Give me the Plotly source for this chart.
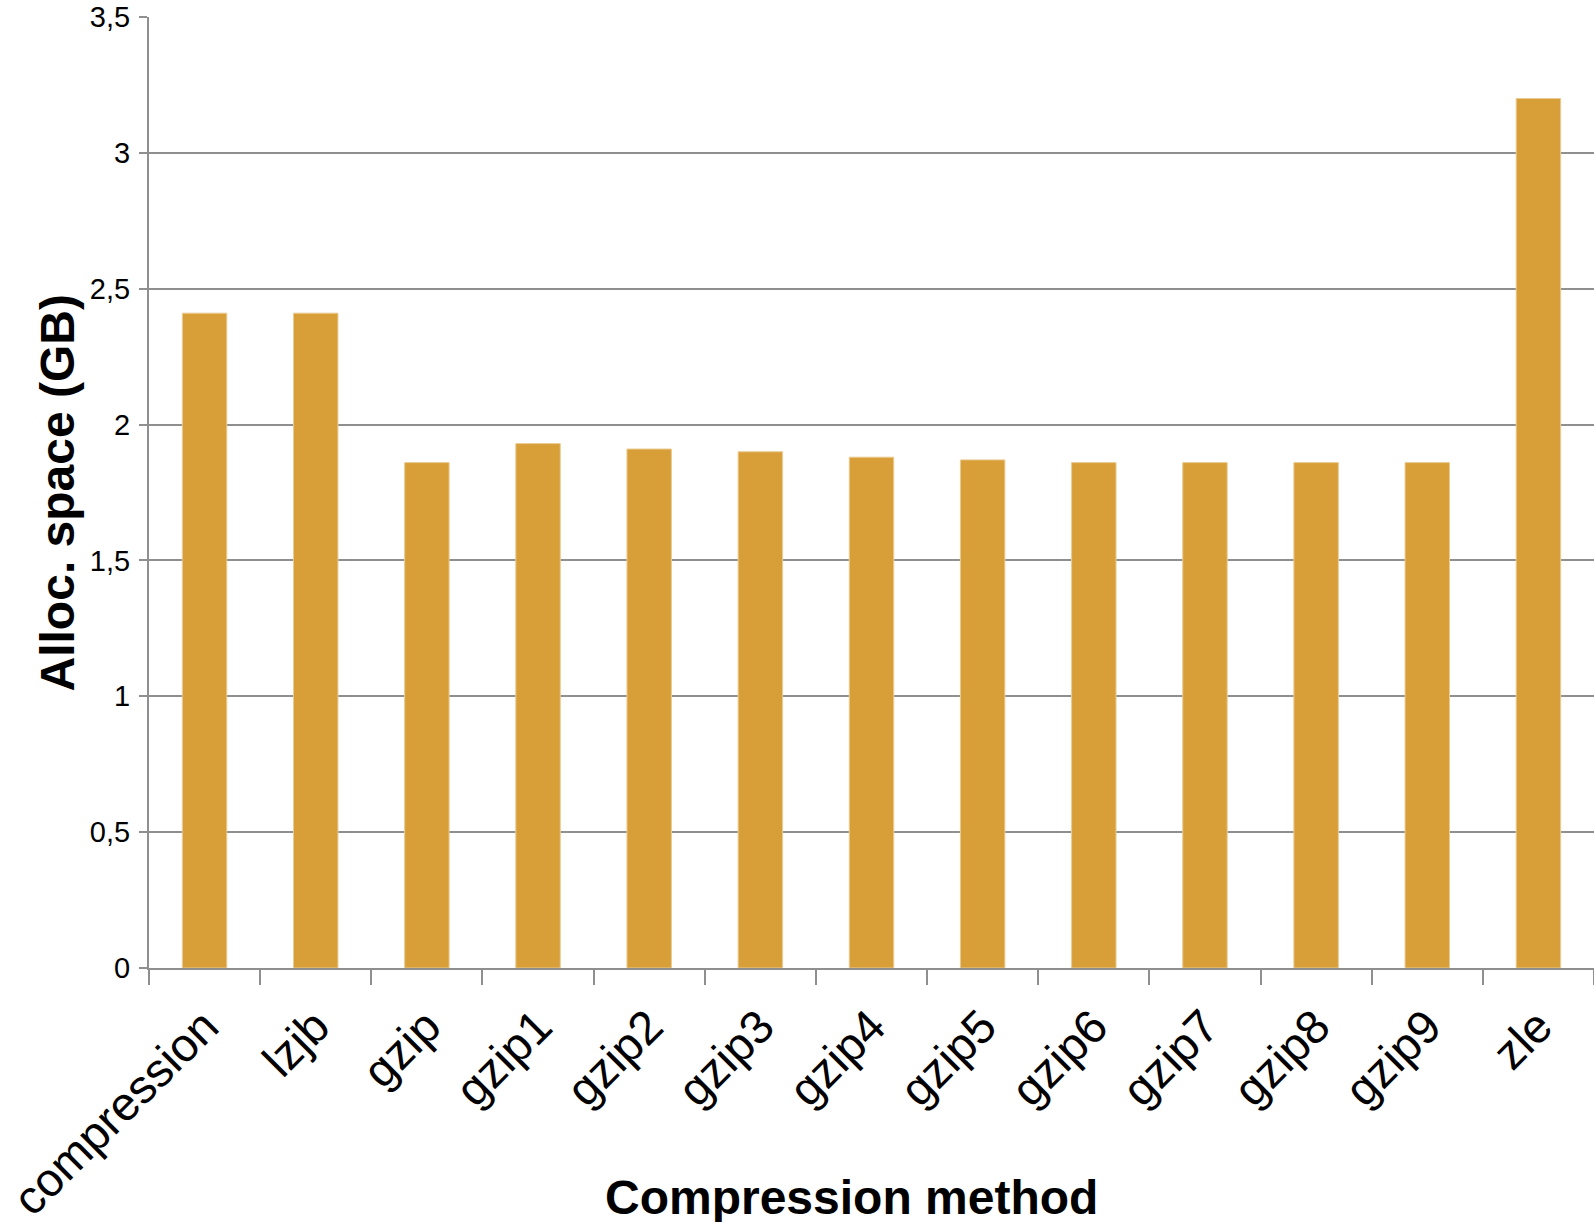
import plotly.graph_objects as go

categories = ["compression", "lzjb", "gzip", "gzip1", "gzip2", "gzip3", "gzip4",
              "gzip5", "gzip6", "gzip7", "gzip8", "gzip9", "zle"]
alloc_gb = [2.41, 2.41, 1.86, 1.93, 1.91, 1.90, 1.88, 1.87, 1.86, 1.86, 1.86, 1.86, 3.20]
y_tickvals = [0, 0.5, 1, 1.5, 2, 2.5, 3, 3.5]
y_ticktext = ["0", "0,5", "1", "1,5", "2", "2,5", "3", "3,5"]

FONT = "Liberation Sans, Arial, Helvetica, sans-serif"
GRID = "#8f8f8f"

fig = go.Figure(go.Bar(
    x=categories, y=alloc_gb,
    marker=dict(color="#D89F39", line=dict(color="#EBCB94", width=1)),
))

fig.update_layout(
    width=1594, height=1222,
    margin=dict(l=149, r=0, t=17, b=254),
    plot_bgcolor="white", paper_bgcolor="white",
    bargap=0.6,
    showlegend=False,
    font=dict(family=FONT, color="black"),
    annotations=[
        dict(text="<b>Compression method</b>", xref="paper", yref="paper",
             x=0.4865, y=-0.2408, xanchor="center", yanchor="middle",
             showarrow=False, font=dict(size=48, family=FONT, color="black")),
        dict(text="<b>Alloc. space (GB)</b>", xref="paper", yref="paper",
             x=-0.063, y=0.5, xanchor="center", yanchor="middle", textangle=-90,
             showarrow=False, font=dict(size=48, family=FONT, color="black")),
    ],
)
fig.update_xaxes(
    tickangle=-45, tickfont=dict(size=47, family=FONT),
    tickson="boundaries", ticks="outside", ticklen=15, tickwidth=2, tickcolor=GRID,
    showline=True, linecolor=GRID, linewidth=2,
    ticklabelstandoff=10, automargin=False,
)
fig.update_yaxes(
    range=[0, 3.5], tickvals=y_tickvals, ticktext=y_ticktext,
    tickfont=dict(size=29, family=FONT),
    ticks="outside", ticklen=8, tickwidth=2, tickcolor=GRID,
    showline=True, linecolor=GRID, linewidth=2,
    showgrid=True, gridcolor=GRID, gridwidth=2,
    zeroline=False, automargin=False,
    ticklabelstandoff=3,
)

fig.write_html(
    "out.html",
    config={"displayModeBar": False},
    post_script="document.body.style.margin='0';document.body.style.overflow='hidden';",
)
